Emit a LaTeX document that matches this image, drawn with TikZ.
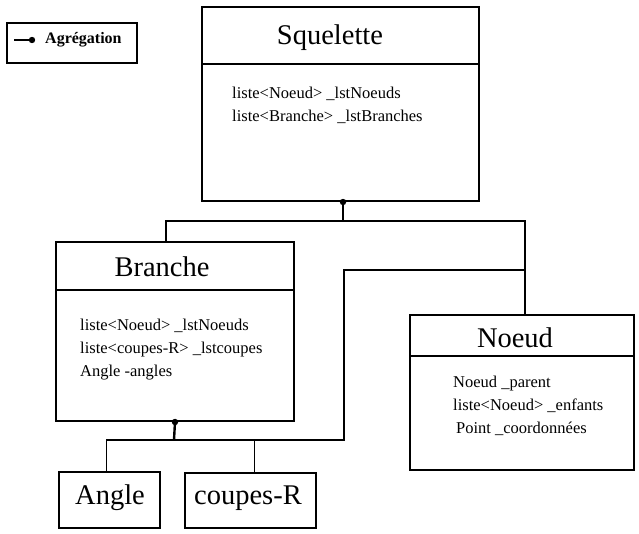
\documentclass[tikz,border=0pt]{standalone}
\usepackage{fontspec}
\setmainfont{Liberation Serif}
\tikzset{classbox/.style = {draw, line width=2pt, inner sep=0pt, anchor=north west}}
\tikzset{titre/.style = {font=\fontsize{28.5}{34}\selectfont}}
\tikzset{attrib/.style = {font=\fontsize{16.5}{23}\selectfont, align=left, anchor=north west, inner sep=0pt}}
\tikzset{lien/.style = {line width=1.8pt}}
\tikzset{aggr/.style = {line width=1.8pt, decoration={markings, mark=at position 1 with {\fill circle (3.2pt);}}, postaction={decorate}}}
\usetikzlibrary{calc,decorations.markings}

\begin{document}
\begin{tikzpicture}[x=1pt, y=-1pt]
	\useasboundingbox (0,0) rectangle (639,533);
	% legende
	\node[classbox, minimum width=130pt, minimum height=40pt] (legende) at (6,22) {};
	\coordinate (legA) at (14,40);
	\coordinate (legB) at (32,40);
	\draw[aggr] (legA) -- (legB);
	\node[anchor=west, inner sep=0pt, font=\fontsize{16}{18}\bfseries] (legtxt) at (45,40) {Agrégation};
	% classes
	\node[classbox, minimum width=277pt, minimum height=194pt] (squelette) at (201,6) {};
	\draw[line width=2pt] ([yshift=-58pt]squelette.north west) -- ([yshift=-58pt]squelette.north east);
	\node[titre] (sqtitre) at (330,38) {Squelette};
	\node[attrib] (sqattr) at (232,87) {liste<Noeud> \_lstNoeuds\\liste<Branche> \_lstBranches};

	\node[classbox, minimum width=238pt, minimum height=179pt] (branche) at (55,241) {};
	\draw[line width=2pt] ([yshift=-49pt]branche.north west) -- ([yshift=-49pt]branche.north east);
	\node[titre] (brtitre) at (162,267) {Branche};
	\node[attrib] (brattr) at (80,319) {liste<Noeud> \_lstNoeuds\\liste<coupes-R> \_lstcoupes\\Angle -angles};

	\node[classbox, minimum width=224pt, minimum height=155pt] (noeud) at (409,314) {};
	\draw[line width=2pt] ([yshift=-42pt]noeud.north west) -- ([yshift=-42pt]noeud.north east);
	\node[titre] (notitre) at (515,338) {Noeud};
	\node[attrib] (noattr) at (453,376) {Noeud \_parent\\liste<Noeud> \_enfants\\\hspace{3pt}Point \_coordonnées};

	\node[classbox, minimum width=101pt, minimum height=56pt] (angle) at (58,471) {};
	\node[titre] (antitre) at (110,498) {Angle};
	\node[classbox, minimum width=131pt, minimum height=55pt] (coupes) at (184,472) {};
	\node[titre] (cotitre) at (248,498) {coupes-R};
	% liens
	\coordinate (jonc1) at (343,221);
	\coordinate (jonc2) at (174,440);
	\coordinate (coude) at (344,270);
	\coordinate (nolien) at ([xshift=3pt]noeud.north);
	\draw[aggr] (jonc1) -- (jonc1 |- squelette.south);
	\draw[lien] ([xshift=-9pt]branche.north) |- (jonc1) -| (nolien);
	\draw[aggr, line width=2.4pt] (jonc2) -- (branche.south);
	\draw[lien] ([xshift=-3pt]angle.north) |- (coude |- jonc2) -- (coude) -- (coude -| nolien);
	\draw[lien] ([xshift=4pt]coupes.north) -- ([xshift=4pt]coupes.north |- jonc2);
\end{tikzpicture}
\end{document}
